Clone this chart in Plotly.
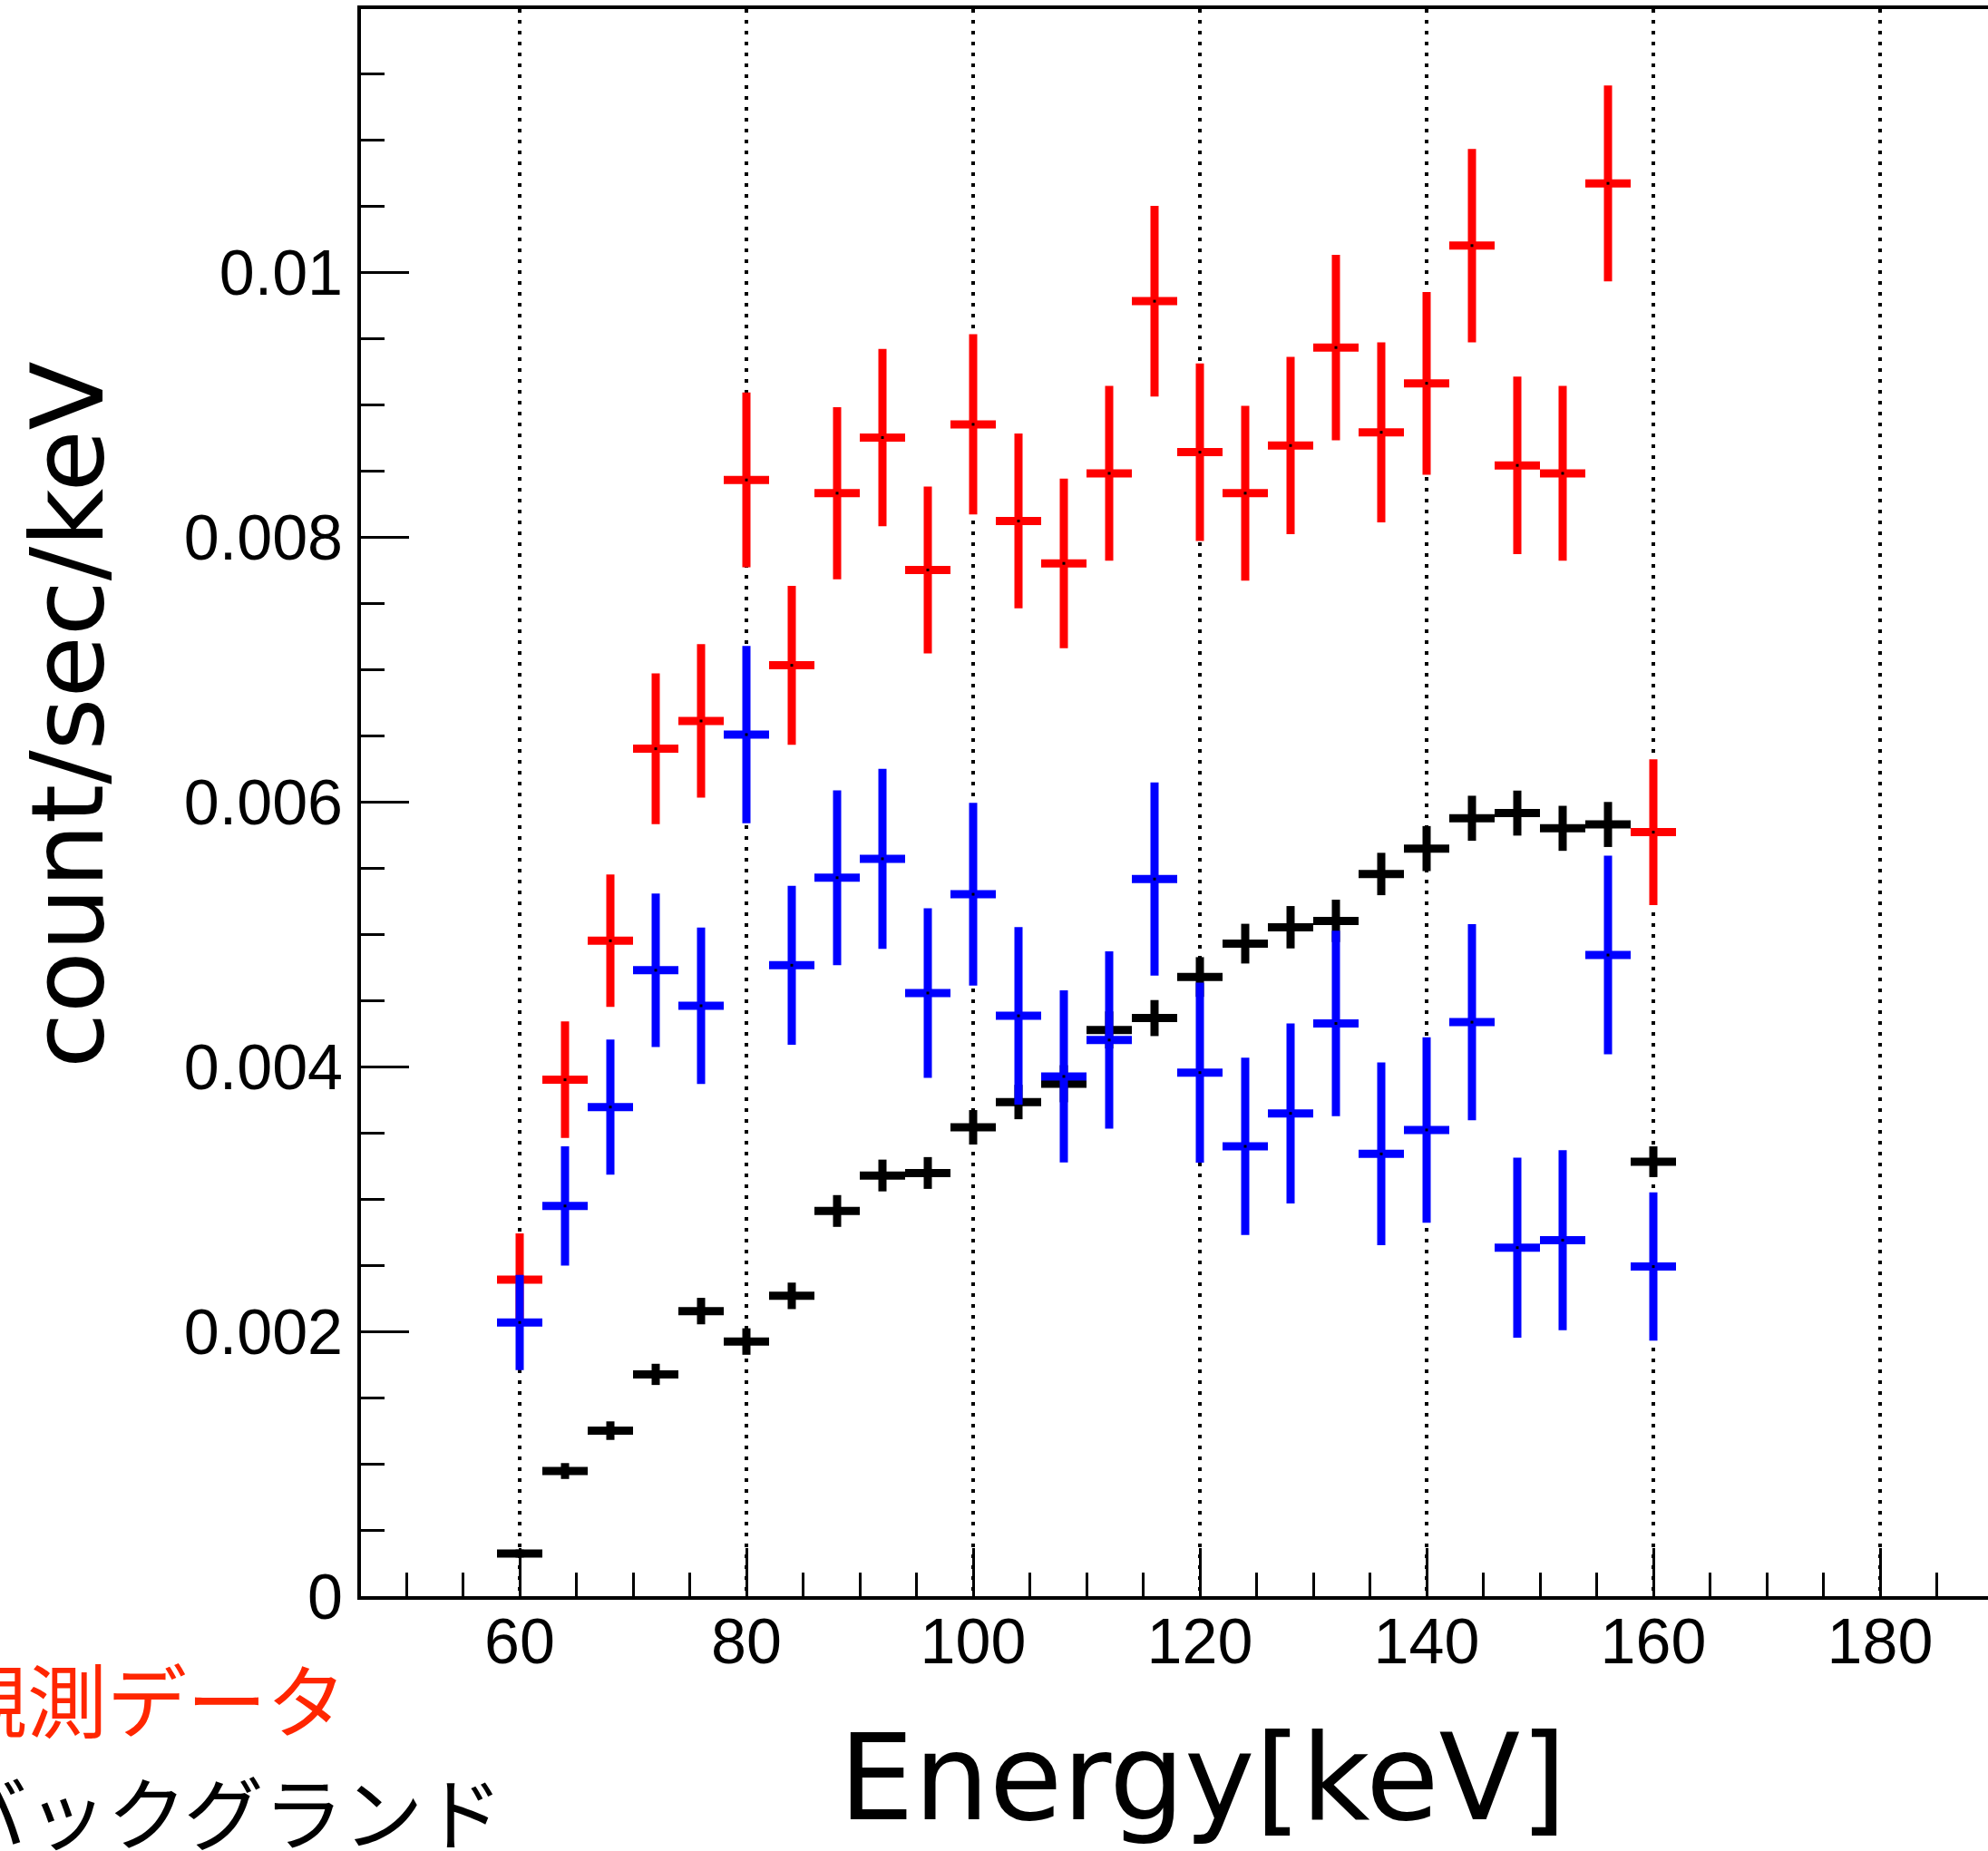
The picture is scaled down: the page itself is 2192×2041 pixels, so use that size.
import plotly.graph_objects as go

# ---- data ----
energy = [60, 64, 68, 72, 76, 80, 84, 88, 92, 96, 100, 104, 108, 112, 116,
          120, 124, 128, 132, 136, 140, 144, 148, 152, 156, 160]
bin_half_width = [2] * len(energy)

observed = [0.00239, 0.00390, 0.00495, 0.00640, 0.00661, 0.00843, 0.00703, 0.00833,
            0.00875, 0.00775, 0.00885, 0.00812, 0.00780, 0.00848, 0.00978, 0.00864,
            0.00833, 0.00869, 0.00943, 0.00879, 0.00916, 0.01020, 0.00854, 0.00848,
            0.01067, 0.00577]
observed_err = [0.00035, 0.00044, 0.00050, 0.00057, 0.00058, 0.00066, 0.00060, 0.00065,
                0.00067, 0.00063, 0.00068, 0.00066, 0.00064, 0.00066, 0.00072, 0.00067,
                0.00066, 0.00067, 0.00070, 0.00068, 0.00069, 0.00073, 0.00067, 0.00066,
                0.00074, 0.00055]

background = [0.000322, 0.000945, 0.001250, 0.001675, 0.002153, 0.001923, 0.002268, 0.002909,
              0.003177, 0.003196, 0.003541, 0.003732, 0.003870, 0.004276, 0.004366, 0.004676,
              0.004928, 0.005052, 0.005100, 0.005454, 0.005646, 0.005875, 0.005914, 0.005799,
              0.005828, 0.003281]
background_err = [0.00003, 0.00006, 0.00007, 0.00008, 0.00010, 0.00010, 0.00010, 0.00012,
                  0.00012, 0.00012, 0.00013, 0.00013, 0.00014, 0.00014, 0.000136, 0.00015,
                  0.00015, 0.00016, 0.00016, 0.00016, 0.00017, 0.00017, 0.00017, 0.00017,
                  0.00017, 0.000116]

net = [0.002067, 0.002947, 0.003694, 0.004727, 0.004459, 0.006507, 0.004765, 0.005426,
       0.005569, 0.004555, 0.005301, 0.004383, 0.003925, 0.004200, 0.005416, 0.003954,
       0.003397, 0.003646, 0.004325, 0.003340, 0.003521, 0.004335, 0.002632, 0.002689,
       0.004842, 0.002489]
net_err = [0.00036, 0.00045, 0.00051, 0.00058, 0.00059, 0.00067, 0.00060, 0.00066,
           0.00068, 0.00064, 0.00069, 0.00067, 0.00065, 0.00067, 0.00073, 0.00068,
           0.00067, 0.00068, 0.00070, 0.00069, 0.00070, 0.00074, 0.00068, 0.00068,
           0.00075, 0.00056]

x_tick_vals = [60, 80, 100, 120, 140, 160, 180]
y_tick_vals = [0, 0.002, 0.004, 0.006, 0.008, 0.01]
y_tick_text = ["0", "0.002", "0.004", "0.006", "0.008", "0.01"]

# ---- figure ----
W, H = 2192, 2041
ML, MR, MT, MB = 398, 0, 10, 281
PW, PH = W - ML - MR, H - MT - MB


def px_x(p):
    return (p - ML) / PW


def px_y(p):
    return (MT + PH - p) / PH


fig = go.Figure()

series = [
    (observed, observed_err, "#ff0000"),
    (background, background_err, "#000000"),
    (net, net_err, "#0000ff"),
]
for vals, errs, col in series:
    fig.add_trace(go.Scatter(
        x=energy, y=vals, mode="markers",
        marker=dict(symbol="square", size=3, color="black", line=dict(width=0)),
        error_x=dict(type="data", array=bin_half_width, visible=True,
                     color=col, thickness=9, width=0),
        error_y=dict(type="data", array=errs, visible=True,
                     color=col, thickness=9, width=0),
        showlegend=False, hoverinfo="skip",
    ))

tickfont = dict(family="Liberation Sans, Arial, sans-serif", size=70, color="black")

fig.update_layout(
    width=W, height=H,
    margin=dict(l=ML, r=MR, t=MT, b=MB, autoexpand=False),
    paper_bgcolor="white", plot_bgcolor="white",
    showlegend=False,
    xaxis=dict(
        range=[46, 46 + PW / 12.5],
        tickvals=x_tick_vals, ticktext=[str(v) for v in x_tick_vals],
        ticks="inside", ticklen=53, tickwidth=3, tickcolor="black",
        showline=True, linewidth=4, linecolor="black", mirror=True,
        showgrid=True, gridcolor="black", gridwidth=3.5, griddash="3.5px,8.5px",
        zeroline=False, tickfont=tickfont, ticklabelstandoff=-14,
        minor=dict(dtick=5, tick0=0, ticks="inside", ticklen=26, tickwidth=3,
                   tickcolor="black", showgrid=False),
    ),
    yaxis=dict(
        range=[0, PH * 0.002 / 292],
        tickvals=y_tick_vals, ticktext=y_tick_text,
        ticks="inside", ticklen=53, tickwidth=3, tickcolor="black",
        showline=True, linewidth=4, linecolor="black", mirror=False,
        showgrid=False, zeroline=False, tickfont=tickfont, ticklabelstandoff=2,
        minor=dict(dtick=0.0005, tick0=0, ticks="inside", ticklen=26, tickwidth=3,
                   tickcolor="black", showgrid=False),
    ),
    annotations=[
        dict(text="count/sec/keV", xref="paper", yref="paper",
             x=px_x(74), y=px_y(788), xanchor="center", yanchor="middle",
             textangle=-90, showarrow=False,
             font=dict(family="DejaVu Sans", size=111, color="black")),
        dict(text="Energy[keV]", xref="paper", yref="paper",
             x=px_x(1326), y=px_y(1960), xanchor="center", yanchor="middle",
             showarrow=False,
             font=dict(family="DejaVu Sans", size=131, color="black")),
        dict(text="観測データ", xref="paper", yref="paper",
             x=px_x(-60), y=px_y(1870), xanchor="left", yanchor="middle",
             showarrow=False,
             font=dict(family="Noto Sans CJK JP", size=88, color="#ff2600")),
        dict(text="バックグランド", xref="paper", yref="paper",
             x=px_x(-60), y=px_y(1994), xanchor="left", yanchor="middle",
             showarrow=False,
             font=dict(family="Noto Sans CJK JP", size=88, color="black")),
    ],
)

fig.write_html("out.html")
